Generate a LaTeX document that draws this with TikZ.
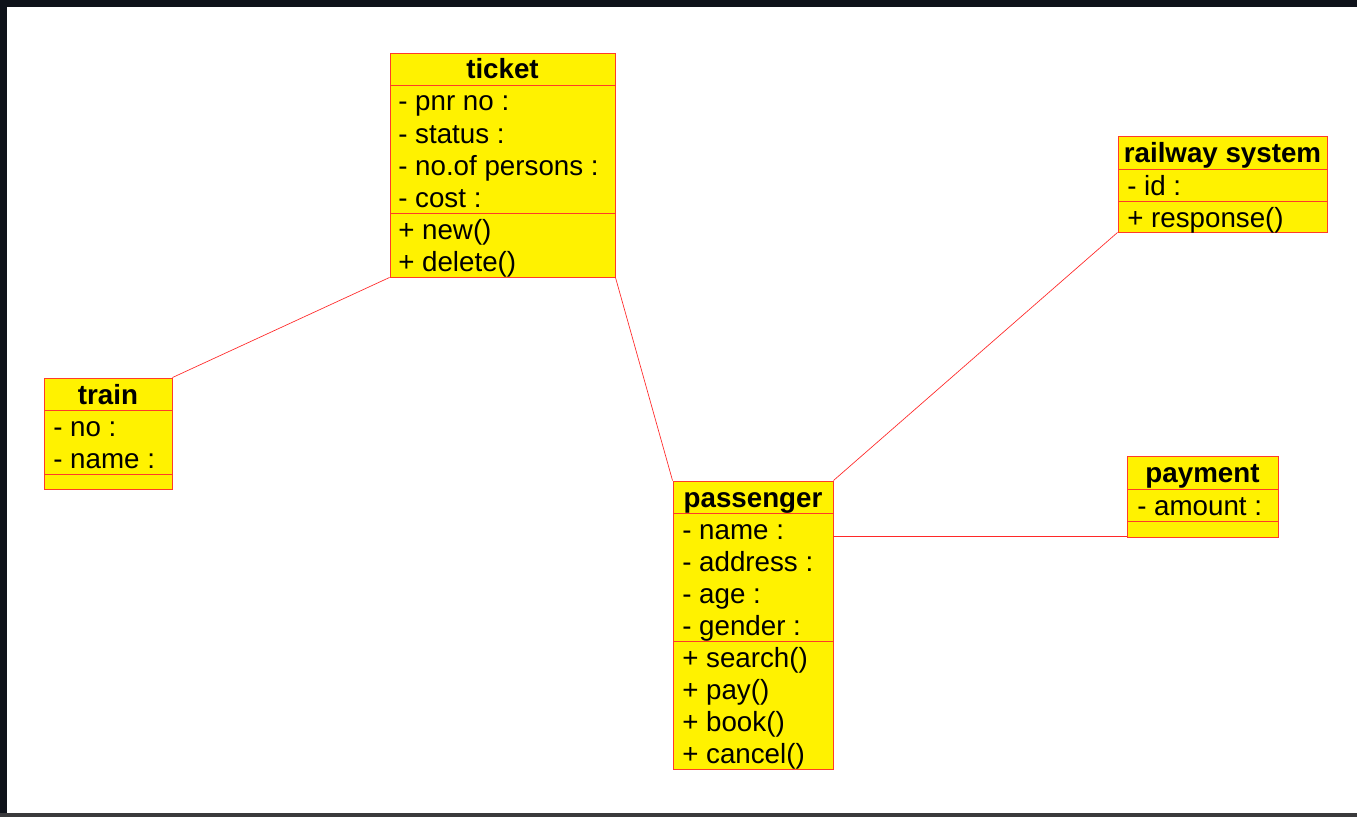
\documentclass[tikz,border=0pt]{standalone}
\usepackage{fontspec}
\setmainfont{Liberation Sans}
\usetikzlibrary{fit}
\definecolor{framedark}{RGB}{14,18,26}
\definecolor{framegray}{RGB}{58,58,60}
\definecolor{boxred}{RGB}{255,60,40}
\definecolor{linkred}{RGB}{255,40,40}

\begin{document}
\begin{tikzpicture}[x=0.75pt,y=-0.75pt,
    classbox/.style={draw=boxred,fill=yellow,line width=0.7pt,inner sep=0pt},
    divider/.style={draw=boxred,line width=0.7pt},
    classname/.style={font=\bfseries\fontsize{20.8}{24}\selectfont,anchor=base,inner sep=0pt},
    member/.style={font=\fontsize{20.8}{24}\selectfont,anchor=base west,inner sep=0pt},
    link/.style={draw=linkred,line width=0.5pt}]
                % frame
                \fill[framedark] (0,0) rectangle (1357,817);
                \fill[white] (7,7) rectangle (1357,813);
                \fill[framegray] (0,813) rectangle (1357,817);
                \useasboundingbox (0,0) rectangle (1357,817);
                % ticket
                \node[classbox,fit={(390,53) (615,277)}] (ticket) {};
                \draw[divider] (390,85) -- (615,85);
                \draw[divider] (390,213) -- (615,213);
                \node[classname] (ticket-name) at (502.5,79) {ticket};
                \node[member] (ticket-a1) at (398,111) {- pnr no :};
                \node[member] (ticket-a2) at (398,143) {- status :};
                \node[member] (ticket-a3) at (398,175) {- no.of persons :};
                \node[member] (ticket-a4) at (398,207) {- cost :};
                \node[member] (ticket-m1) at (398,239) {+ new()};
                \node[member] (ticket-m2) at (398,271) {+ delete()};
                % railway system
                \node[classbox,fit={(1118,136) (1327,232)}] (railway) {};
                \draw[divider] (1118,169) -- (1327,169);
                \draw[divider] (1118,201) -- (1327,201);
                \node[classname] (railway-name) at (1222.5,162) {railway system};
                \node[member] (railway-a1) at (1127,195) {- id :};
                \node[member] (railway-m1) at (1127,227) {+ response()};
                % train
                \node[classbox,fit={(44,378) (172,489)}] (train) {};
                \draw[divider] (44,410) -- (172,410);
                \draw[divider] (44,474) -- (172,474);
                \node[classname] (train-name) at (108,404) {train};
                \node[member] (train-a1) at (53,436) {- no :};
                \node[member] (train-a2) at (53,468) {- name :};
                % passenger
                \node[classbox,fit={(673,481) (833,769)}] (passenger) {};
                \draw[divider] (673,513) -- (833,513);
                \draw[divider] (673,641) -- (833,641);
                \node[classname] (passenger-name) at (753,507) {passenger};
                \node[member] (passenger-a1) at (682,539) {- name :};
                \node[member] (passenger-a2) at (682,571) {- address :};
                \node[member] (passenger-a3) at (682,603) {- age :};
                \node[member] (passenger-a4) at (682,635) {- gender :};
                \node[member] (passenger-m1) at (682,667) {+ search()};
                \node[member] (passenger-m2) at (682,699) {+ pay()};
                \node[member] (passenger-m3) at (682,731) {+ book()};
                \node[member] (passenger-m4) at (682,763) {+ cancel()};
                % payment
                \node[classbox,fit={(1127,456) (1278,537)}] (payment) {};
                \draw[divider] (1127,489) -- (1278,489);
                \draw[divider] (1127,521) -- (1278,521);
                \node[classname] (payment-name) at (1202.5,482) {payment};
                \node[member] (payment-a1) at (1137,515) {- amount :};
                % links
                \draw[link] (ticket.south west) -- (train.north east);
                \draw[link] (ticket.south east) -- (passenger.north west);
                \draw[link] (railway.south west) -- (passenger.north east);
                \draw[link] (passenger.east |- 0,536) -- (payment.west |- 0,536);
            \end{tikzpicture}
\end{document}
